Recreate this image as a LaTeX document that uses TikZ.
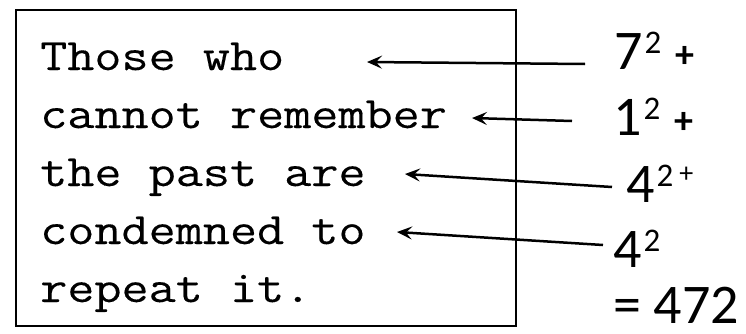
\documentclass[tikz,border=0pt]{standalone}
\usepackage{fontspec}
\newfontfamily\quotefont{Latin Modern Mono}[FakeStretch=1.17,FakeBold=0.25]
\newfontfamily\numfont{Carlito}
\usetikzlibrary{arrows.meta}
\tikzset{
  quote/.style={anchor=base west, inner sep=0pt, font=\quotefont\fontsize{45}{45}\selectfont},
  term/.style={anchor=base west, inner sep=0pt, font=\numfont\fontsize{56}{56}\selectfont},
  pointer/.style={line width=2.5pt, -{Stealth[length=15pt,width=13pt,inset=6pt]}},
  frame/.style={draw, line width=2.2pt}
}
\newcommand{\sq}[1]{#1\hspace{2pt}\raisebox{16pt}{\fontsize{33}{33}\selectfont 2}}
\begin{document}
\begin{tikzpicture}[x=1pt,y=1pt]
\useasboundingbox (0,0) rectangle (746,333);
\node[frame, minimum width=500pt, minimum height=316pt, anchor=north west] (box) at (15,324) {};
% quotation, one line per node
\node[quote] (l1) at (40,263) {Those who};
\node[quote] (l2) at (40,205) {cannot remember};
\node[quote] (l3) at (40,147) {the past are};
\node[quote] (l4) at (40,89) {condemned to};
\node[quote] (l5) at (40,31) {repeat it.};
% sum of squares
\node[term] (n1) at (614,264) {\sq{7}\hspace{14pt}{\fontsize{38}{38}\selectfont\bfseries\raisebox{2pt}{+}}};
\node[term] (n2) at (613,198) {\sq{1}\hspace{14pt}{\fontsize{38}{38}\selectfont\bfseries\raisebox{2pt}{+}}};
\node[term] (n3) at (626,131) {\sq{4}\hspace{6pt}{\fontsize{28}{28}\selectfont\raisebox{20pt}{+}}};
\node[term] (n4) at (613,66) {\sq{4}};
\node[term] (n5) at (613,10) {= 472};
% arrow end points
\coordinate (s1) at (585,269);
\coordinate (t1) at (367,271);
\coordinate (s2) at (572,212);
\coordinate (t2) at (472,215);
\coordinate (s3) at (612,146);
\coordinate (t3) at (405,159);
\coordinate (s4) at (603,88);
\coordinate (t4) at (397,101);
\draw[pointer] (s1) -- (t1);
\draw[pointer] (s2) -- (t2);
\draw[pointer] (s3) -- (t3);
\draw[pointer] (s4) -- (t4);
\end{tikzpicture}
\end{document}
